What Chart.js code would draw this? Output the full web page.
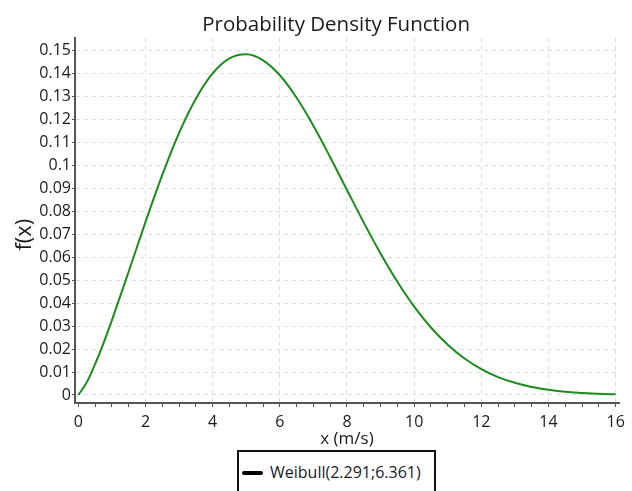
<!DOCTYPE html>
<html>
<head>
<meta charset="utf-8">
<script src="https://cdn.jsdelivr.net/npm/chart.js@4/dist/chart.umd.min.js"></script>
<style>
    body { margin: 0; background: #fff; }
    #wrap { position: relative; width: 632px; height: 491px; overflow: hidden; }
    #legendBox {
        position: absolute; left: 237px; top: 450px; width: 195px; height: 60px;
        border: 2px solid #111; background: #fff;
        font-family: "Open Sans", sans-serif; font-size: 16px; color: #1a1a2a;
    }
    #legendBox .bar { position: absolute; left: 3px; top: 19px; width: 21px; height: 4px; background: #000; border-radius: 2px; }
    #legendBox .txt { position: absolute; left: 31px; top: 10px; line-height: 20px; white-space: nowrap; }
</style>
</head>
<body>
<div id="wrap">
    <canvas id="pdfChart" width="632" height="491"></canvas>
    <div id="legendBox"><div class="bar"></div><div class="txt" id="legendText"></div></div>
</div>
<script>
// wind speed (m/s) and density
const xValues = [0, 0.25, 0.5, 0.75, 1, 1.5, 2, 2.5, 3, 3.5, 4, 4.5, 5, 5.5, 6, 6.5, 7, 7.5, 8,
    8.5, 9, 9.5, 10, 10.5, 11, 11.5, 12, 12.5, 13, 13.5, 14, 14.5, 15, 15.5, 16];
const pdfValues = [0, 0.0055, 0.0135, 0.0226, 0.0326, 0.0538, 0.0754, 0.0959, 0.1142, 0.1291, 0.1401, 0.1466, 0.1484,
    0.1458, 0.1393, 0.1295, 0.1173, 0.1036, 0.0893, 0.0751, 0.0616, 0.0493, 0.0385, 0.0294, 0.0219,
    0.0159, 0.0113, 0.0078, 0.0053, 0.0035, 0.0023, 0.0014, 0.0009, 0.0005, 0.0003];
const seriesName = 'Weibull(2.291;6.361)';
const yTicks = [0, 0.01, 0.02, 0.03, 0.04, 0.05, 0.06, 0.07, 0.08, 0.09, 0.1, 0.11, 0.12, 0.13, 0.14, 0.15];
const xTicks = [0, 0.5, 1, 1.5, 2, 2.5, 3, 3.5, 4, 4.5, 5, 5.5, 6, 6.5, 7, 7.5, 8,
    8.5, 9, 9.5, 10, 10.5, 11, 11.5, 12, 12.5, 13, 13.5, 14, 14.5, 15, 15.5, 16];

document.getElementById('legendText').textContent = seriesName;

const font = "'Open Sans', sans-serif";
const isMajor = v => Math.abs(v % 2) < 1e-9;

new Chart(document.getElementById('pdfChart'), {
    type: 'line',
    data: {
        datasets: [{
            label: seriesName,
            data: xValues.map((x, i) => ({ x: x, y: pdfValues[i] })),
            borderColor: '#1c8c1c',
            borderWidth: 2,
            pointRadius: 0,
            cubicInterpolationMode: 'monotone',
            fill: false
        }]
    },
    options: {
        responsive: false,
        animation: false,
        layout: { padding: { left: 0, right: 13, top: 0, bottom: 42 } },
        plugins: {
            legend: { display: false },
            tooltip: { enabled: false },
            title: {
                display: true,
                // leading spaces push the title right, as in the original
                text: '\u00a0\u00a0\u00a0\u00a0\u00a0\u00a0\u00a0\u00a0\u00a0\u00a0Probability Density Function',
                color: '#1a1a1a',
                font: { family: font, size: 20.5, weight: 'normal' },
                padding: { top: 13, bottom: 0 }
            }
        },
        scales: {
            x: {
                type: 'linear',
                min: -0.1,
                max: 16.1,
                afterBuildTicks: s => { s.ticks = xTicks.map(v => ({ value: v })); },
                afterFit: s => { s.height = 46; },
                ticks: {
                    autoSkip: false,
                    maxRotation: 0,
                    padding: 6,
                    color: '#1a1a1a',
                    font: { family: font, size: 16 },
                    callback: v => isMajor(v) ? String(v) : ''
                },
                grid: {
                    color: c => (c.tick && isMajor(c.tick.value) && c.tick.value !== 0) ? '#dedede' : 'rgba(0,0,0,0)',
                    tickColor: '#555',
                    tickLength: 4
                },
                border: { color: '#555', width: 2, dash: [4, 4] },
                title: {
                    display: true,
                    text: 'x (m/s)',
                    color: '#1a1a1a',
                    font: { family: font, size: 17 },
                    padding: { top: 0, bottom: 0 }
                }
            },
            y: {
                min: -0.0035,
                max: 0.1557,
                afterBuildTicks: s => { s.ticks = yTicks.map(v => ({ value: v })); },
                afterFit: s => { s.width = 75; },
                ticks: {
                    padding: 1,
                    color: '#1a1a1a',
                    font: { family: font, size: 16 },
                    callback: v => String(+v.toFixed(2))
                },
                grid: {
                    color: '#dedede',
                    tickColor: '#555',
                    tickLength: 3
                },
                border: { color: '#555', width: 2, dash: [4, 4] },
                title: {
                    display: true,
                    // trailing spaces move the rotated label down a little
                    text: 'f(x)\u00a0\u00a0\u00a0\u00a0\u00a0',
                    color: '#1a1a1a',
                    font: { family: font, size: 22 },
                    padding: { top: 12, bottom: 0 }
                }
            }
        }
    }
});
</script>
</body>
</html>
